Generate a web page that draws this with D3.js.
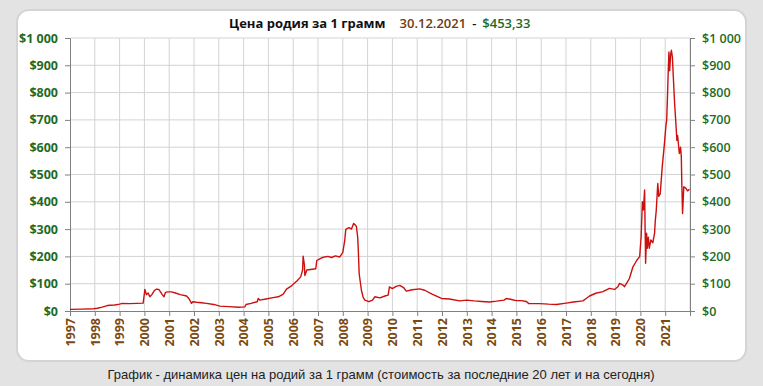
<!DOCTYPE html>
<html>
<head>
<meta charset="utf-8">
<script src="https://cdn.jsdelivr.net/npm/d3@7"></script>
<style>
  body { margin: 0; background: #e3e3e3; }
  svg { display: block; }
</style>
</head>
<body>
<svg id="chart" width="763" height="386"></svg>
<script>
// rhodium price, USD per gram
const dates = [
  1997.0, 1997.5, 1997.95, 1998.1, 1998.3, 1998.5, 1998.8, 1999.0, 1999.1, 1999.4, 1999.7, 1999.95,
  2000.02, 2000.08, 2000.15, 2000.22, 2000.3, 2000.4, 2000.49, 2000.58, 2000.65, 2000.72, 2000.79,
  2000.85, 2000.95, 2001.1, 2001.25, 2001.45, 2001.7, 2001.8, 2001.9, 2001.95, 2002.1, 2002.3,
  2002.5, 2002.8, 2003.04, 2003.4, 2003.8, 2004.05, 2004.1, 2004.3, 2004.55, 2004.59, 2004.65,
  2004.9, 2005.19, 2005.4, 2005.6, 2005.73, 2005.9, 2006.0, 2006.15, 2006.3, 2006.38, 2006.4,
  2006.45, 2006.47, 2006.55, 2006.7, 2006.91, 2006.95, 2007.05, 2007.15, 2007.27, 2007.4,
  2007.55, 2007.7, 2007.88, 2008.0, 2008.08, 2008.12, 2008.25, 2008.35, 2008.44, 2008.5, 2008.55,
  2008.6, 2008.62, 2008.66, 2008.7, 2008.75, 2008.82, 2008.89, 2009.05, 2009.2, 2009.29, 2009.5,
  2009.7, 2009.83, 2009.88, 2010.0, 2010.15, 2010.3, 2010.45, 2010.56, 2010.8, 2011.1, 2011.3,
  2011.6, 2011.98, 2012.3, 2012.71, 2013.0, 2013.3, 2013.6, 2013.92, 2014.2, 2014.5, 2014.59,
  2014.8, 2014.99, 2015.2, 2015.4, 2015.5, 2015.94, 2016.3, 2016.61, 2017.01, 2017.3, 2017.68,
  2017.8, 2017.95, 2018.2, 2018.49, 2018.75, 2018.96, 2019.1, 2019.16, 2019.3, 2019.36, 2019.5,
  2019.56, 2019.7, 2019.85, 2019.97, 2020.03, 2020.08, 2020.12, 2020.17, 2020.19, 2020.21,
  2020.25, 2020.28, 2020.32, 2020.36, 2020.42, 2020.5, 2020.57, 2020.6, 2020.64, 2020.7, 2020.74,
  2020.8, 2020.88, 2020.97, 2021.03, 2021.06, 2021.1, 2021.13, 2021.15, 2021.18, 2021.22,
  2021.25, 2021.29, 2021.34, 2021.38, 2021.44, 2021.47, 2021.5, 2021.57, 2021.62, 2021.65,
  2021.67, 2021.7, 2021.75, 2021.83, 2021.9, 2021.98
];
const prices = [
  6, 7, 8, 10, 14, 20, 22, 25, 28, 27, 28, 29,
  79, 60, 66, 52, 60, 75, 80, 79, 70, 60, 52,
  68, 70, 70, 66, 60, 55, 45, 28, 34, 32, 30,
  28, 24, 18, 16, 14, 15, 24, 28, 34, 46, 40,
  44, 49, 52, 62, 80, 90, 98, 110, 125, 150, 201,
  170, 130, 150, 152, 155, 185, 190, 195, 198, 200,
  196, 202, 198, 215, 260, 299, 305, 300, 321, 315, 309,
  270, 235, 137, 110, 76, 50, 40, 34, 40, 52, 48,
  55, 58, 88, 82, 90, 94, 86, 73, 78, 81, 76,
  62, 46, 44, 37, 40, 37, 35, 33, 36, 40, 46,
  42, 38, 38, 35, 27, 27, 25, 24, 29, 33, 37,
  45, 55, 65, 71, 83, 79, 90, 101, 95, 89, 110,
  120, 162, 185, 199, 272, 400, 370, 443, 300, 175,
  285, 230, 270, 230, 260, 250, 284, 330, 369, 467, 420,
  430, 528, 614, 680, 699, 809, 900, 949, 880, 940,
  955, 930, 833, 760, 674, 625, 643, 577, 600, 565,
  467, 357, 455, 450, 440, 446
];
const yearTicks = d3.range(1997, 2022);
const priceTicks = d3.range(0, 1001, 100);
const titleText = "Цена родия за 1 грамм";
const lastDate = "30.12.2021";
const lastPrice = "$453,33";
const caption = "График - динамика цен на родий за 1 грамм (стоимость за последние 20 лет и на сегодня)";

const svg = d3.select("#chart");
const margin = {left: 70, right: 73, top: 38, bottom: 75};
const width = 763, height = 386;

// card
svg.append("rect")
  .attr("x", 17).attr("y", 10)
  .attr("width", 729).attr("height", 351)
  .attr("rx", 12)
  .attr("fill", "#fff")
  .attr("stroke", "#d4d4d4")
  .attr("stroke-width", 2);

const x = d3.scaleLinear()
  .domain([1997, 2022])
  .range([margin.left, width - margin.right]);
const y = d3.scaleLinear()
  .domain([0, 1000])
  .range([height - margin.bottom, margin.top]);

// grid
svg.append("g")
  .selectAll("line.v")
  .data(yearTicks.slice(1).concat([2022]))
  .join("line")
  .attr("x1", d => x(d)).attr("x2", d => x(d))
  .attr("y1", y(1000)).attr("y2", y(0))
  .attr("stroke", "#d3d3d3");
svg.append("g")
  .selectAll("line.h")
  .data(priceTicks.slice(1))
  .join("line")
  .attr("x1", x(1997)).attr("x2", x(2022))
  .attr("y1", d => y(d)).attr("y2", d => y(d))
  .attr("stroke", "#d3d3d3");

const fmt = d => d === 1000 ? "$1 000" : "$" + d;

// left axis
const yLeft = svg.append("g")
  .attr("transform", `translate(${x(1997)},0)`)
  .call(d3.axisLeft(y).tickValues(priceTicks).tickSize(5).tickPadding(7).tickFormat(fmt));
yLeft.selectAll("text")
  .attr("fill", "#1f6b1f")
  .style("font", "bold 12.5px 'Open Sans', sans-serif");

// right axis
const yRight = svg.append("g")
  .attr("transform", `translate(${x(2022)},0)`)
  .call(d3.axisRight(y).tickValues(priceTicks).tickSize(5).tickPadding(7).tickFormat(fmt));
yRight.selectAll("text")
  .attr("fill", "#1f6b1f")
  .style("font", "600 12.5px 'Open Sans', sans-serif");

// bottom axis
const xAxis = svg.append("g")
  .attr("transform", `translate(0,${y(0)})`)
  .call(d3.axisBottom(x).tickValues(yearTicks).tickSize(5).tickFormat(d3.format("d")));
xAxis.selectAll("text")
  .attr("fill", "#7a4a12")
  .style("font", "bold 12.5px 'Open Sans', sans-serif")
  .attr("transform", "rotate(-90)")
  .attr("text-anchor", "end")
  .attr("x", -7)
  .attr("y", 0)
  .attr("dy", "0.35em");

[yLeft, yRight, xAxis].forEach(g => {
  g.select(".domain").attr("stroke", "#808080");
  g.selectAll(".tick line").attr("stroke", "#808080");
});

// price line
const line = d3.line()
  .x((d, i) => x(dates[i]))
  .y(d => y(d));
svg.append("path")
  .datum(prices)
  .attr("d", line)
  .attr("fill", "none")
  .attr("stroke", "#cc1010")
  .attr("stroke-width", 1.4)
  .attr("stroke-linejoin", "round");

// title
const title = svg.append("text")
  .attr("x", 229).attr("y", 28)
  .style("font", "bold 13px 'Open Sans', sans-serif");
title.append("tspan").attr("fill", "#111").text(titleText);
title.append("tspan").attr("dx", 14).attr("fill", "#6b3d12").style("font-weight", "600").text(lastDate);
title.append("tspan").attr("dx", 6).attr("fill", "#111").style("font-weight", "600").text("-");
title.append("tspan").attr("dx", 6).attr("fill", "#1f6b1f").style("font-weight", "600").text(lastPrice);

// caption
svg.append("text")
  .attr("x", 381).attr("y", 379)
  .attr("text-anchor", "middle")
  .attr("fill", "#222")
  .style("font", "13px 'Liberation Sans', Arial, sans-serif")
  .text(caption);
</script>
</body>
</html>
